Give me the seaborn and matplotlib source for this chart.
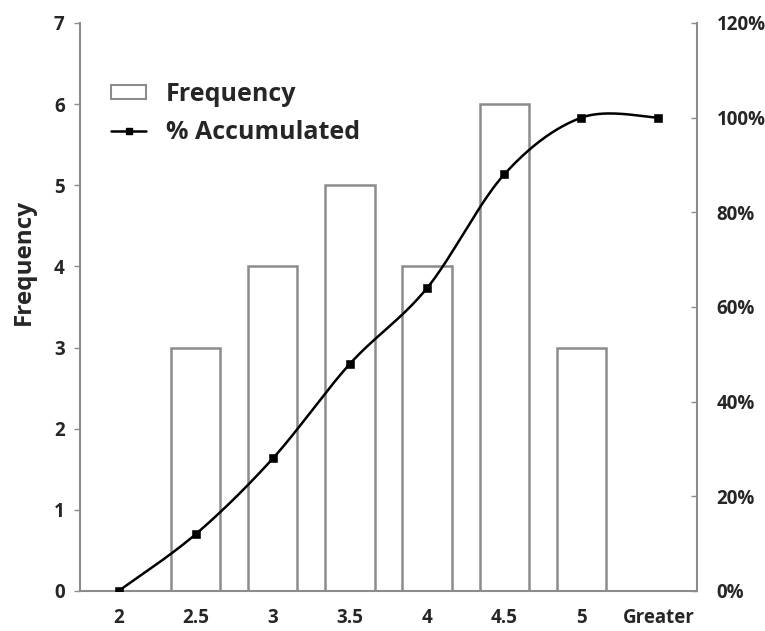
import numpy as np
import pandas as pd
import matplotlib
matplotlib.use("Agg")
import matplotlib.pyplot as plt
import seaborn as sns
from matplotlib.patches import Rectangle
from matplotlib.lines import Line2D
from matplotlib.ticker import FuncFormatter

# ---- data ----
categories = ["2", "2.5", "3", "3.5", "4", "4.5", "5", "Greater"]
frequency = [0, 3, 4, 5, 4, 6, 3, 0]
accumulated_pct = [0, 12, 28, 48, 64, 88, 100, 100]
left_ticks = [0, 1, 2, 3, 4, 5, 6, 7]
right_ticks = [0, 20, 40, 60, 80, 100, 120]

sns.set_style("white")
plt.rcParams["font.family"] = ["Open Sans", "DejaVu Sans"]
plt.rcParams["font.weight"] = "bold"

GRAY = "#8c8c8c"
TICK_FS = 13.5
fig = plt.figure(figsize=(7.65, 6.31), dpi=100)
ax = fig.add_axes([80 / 765, 40 / 631, 617 / 765, 568 / 631])

df = pd.DataFrame({"bin": categories, "Frequency": frequency})
sns.barplot(data=df, x="bin", y="Frequency", ax=ax, color="white",
            edgecolor=GRAY, linewidth=1.8, width=0.64, saturation=1)

ax.set_xlim(-0.5, len(categories) - 0.5)
ax.set_ylim(0, 7)
ax.set_yticks(left_ticks)
ax.set_xlabel("")
ax.set_ylabel("Frequency", fontsize=17.5, fontweight="bold")
ax.yaxis.set_label_coords(-0.072, 0.58)

for s in ["top", "right"]:
    ax.spines[s].set_visible(False)
for s in ["left", "bottom"]:
    ax.spines[s].set_color(GRAY)
    ax.spines[s].set_linewidth(1.5)

ax.tick_params(axis="y", which="major", length=4, width=1, color=GRAY,
               direction="out", labelsize=TICK_FS, pad=7)
ax.set_xticks(np.arange(-0.5, len(categories), 1.0), minor=True)
ax.tick_params(axis="x", which="major", length=0, labelsize=TICK_FS, pad=12)
ax.tick_params(axis="x", which="minor", length=5, width=1, color=GRAY,
               direction="out")
for lab in ax.get_xticklabels() + ax.get_yticklabels():
    lab.set_fontweight("bold")

# ---- secondary axis: smoothed cumulative % ----
ax2 = ax.twinx()
xs = np.arange(len(categories), dtype=float)
ys = np.array(accumulated_pct, dtype=float)
P = np.column_stack([xs, ys])
Pext = np.vstack([P[0], P, P[-1]])
curve = []
t = np.linspace(0, 1, 40)
for i in range(len(P) - 1):
    p0, p1, p2, p3 = Pext[i], Pext[i + 1], Pext[i + 2], Pext[i + 3]
    c1 = p1 + (p2 - p0) / 6.0
    c2 = p2 - (p3 - p1) / 6.0
    seg = ((1 - t) ** 3)[:, None] * p1 + (3 * (1 - t) ** 2 * t)[:, None] * c1 \
        + (3 * (1 - t) * t ** 2)[:, None] * c2 + (t ** 3)[:, None] * p2
    curve.append(seg)
curve = np.vstack(curve)
ax2.plot(curve[:, 0], curve[:, 1], color="black", linewidth=1.8, zorder=3)
sns.scatterplot(x=xs, y=ys, ax=ax2, marker="s", s=28, color="black",
                edgecolor="black", zorder=4)

ax2.set_ylim(0, 120)
ax2.set_yticks(right_ticks)
ax2.yaxis.set_major_formatter(FuncFormatter(lambda v, p: f"{int(v)}%"))
for s in ["top", "left", "bottom"]:
    ax2.spines[s].set_visible(False)
ax2.spines["right"].set_color(GRAY)
ax2.spines["right"].set_linewidth(1.5)
ax2.tick_params(axis="y", length=4, width=1, color=GRAY, direction="in",
                labelsize=TICK_FS, pad=14)
for lab in ax2.get_yticklabels():
    lab.set_fontweight("bold")
ax2.set_xlim(-0.5, len(categories) - 0.5)

# ---- legend ----
handles = [
    Rectangle((0, 0), 1, 1, facecolor="white", edgecolor=GRAY, linewidth=1.5),
    Line2D([0], [0], color="black", linewidth=1.8, marker="s", markersize=5),
]
leg = ax2.legend(handles, ["Frequency", "% Accumulated"], loc="upper left",
                 bbox_to_anchor=(0.03, 0.918), frameon=False,
                 prop={"size": 18, "weight": "bold"}, handlelength=1.4,
                 handleheight=0.5, handletextpad=0.8, labelspacing=0.5,
                 borderpad=0)

fig.savefig("out.png", dpi=100, facecolor="white")
